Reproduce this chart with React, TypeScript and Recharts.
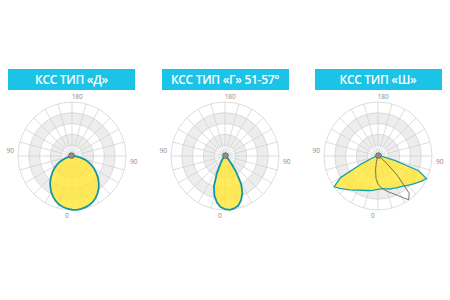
import React from 'react';
import { RadarChart, Radar, PolarGrid, PolarAngleAxis, PolarRadiusAxis, PieChart, Pie } from 'recharts';

// half-profile angles from nadir (deg)
const HALF_ANGLES = [0, 5, 10, 15, 20, 25, 30, 35, 40, 45, 50, 55, 60, 65, 70, 75, 80, 85, 90];

// relative intensity, type "Д"
const CURVE_D = [1.0, 0.995, 0.98, 0.96, 0.93, 0.885, 0.83, 0.77, 0.7, 0.63, 0.55, 0.475, 0.4, 0.32, 0.24, 0.15, 0.08, 0.03, 0];
// type "Г" 51-57°
const CURVE_G = [1.0, 0.985, 0.95, 0.87, 0.76, 0.6, 0.36, 0.18, 0.1, 0.06, 0.035, 0.02, 0.01, 0, 0, 0, 0, 0, 0];
// type "Ш", C0 plane (symmetric batwing)
const CURVE_SH = [0.61, 0.62, 0.63, 0.65, 0.66, 0.68, 0.7, 0.73, 0.77, 0.82, 0.87, 0.93, 0.99, 0.8, 0.32, 0.12, 0.05, 0.02, 0];
// type "Ш", C90 plane (asymmetric, positive = right)
const SH90_ANGLES = [-30, -25, -20, -15, -10, -5, 0, 5, 10, 15, 20, 25, 30, 35, 40, 45, 50, 55];
const CURVE_SH90 = [0.02, 0.05, 0.12, 0.26, 0.42, 0.52, 0.58, 0.63, 0.68, 0.73, 0.79, 0.88, 0.99, 0.9, 0.5, 0.21, 0.08, 0.02];

const TITLES = ['КСС ТИП «Д»', 'КСС ТИП «Г» 51-57°', 'КСС ТИП «Ш»'];
const AXIS_LABELS: Record<number, string> = { 0: '0', 90: '90', 180: '180', [-90]: '90' };

const half = (arr: number[], deg: number) => {
  const i = HALF_ANGLES.indexOf(Math.abs(deg));
  return i >= 0 ? arr[i] : 0;
};

const data = Array.from({ length: 72 }, (_, i) => {
  const deg = i <= 36 ? i * 5 : i * 5 - 360;
  const j = SH90_ANGLES.indexOf(deg);
  return {
    deg,
    d: half(CURVE_D, deg),
    g: half(CURVE_G, deg),
    sh: half(CURVE_SH, deg),
    sh90: j >= 0 ? CURVE_SH90[j] : 0,
  };
});

const SIZE = 150;
const C = 75;
const R = 54;
const RINGS = [0.2, 0.4, 0.6, 0.8, 1].map(f => f * R);
const SPOKES = Array.from({ length: 24 }, (_, i) => i * 15);
const BANDS = [
  [0.2, 0.4],
  [0.6, 0.8],
];
const band = [{ v: 1 }];

const AngleTick = (props: any) => {
  const { x, y, payload } = props;
  const label = AXIS_LABELS[payload.value];
  if (label === undefined) return null;
  const dx = x - C;
  const dy = y - C;
  const len = Math.sqrt(dx * dx + dy * dy) || 1;
  const off = Math.abs(dx) > Math.abs(dy) ? R + 8 : R + 6;
  return (
    <text
      x={C + (dx / len) * off}
      y={C + (dy / len) * off}
      textAnchor="middle"
      dominantBaseline="central"
      fontSize={6.5}
      fill="#8a8a8a"
    >
      {label}
    </text>
  );
};

const Polar: React.FC<{ series: { key: string; fill: string; stroke: string; width: number }[] }> = ({ series }) => (
  <div style={{ position: 'relative', width: SIZE, height: SIZE }}>
    <div style={{ position: 'absolute', left: 0, top: 0 }}>
      <PieChart width={SIZE} height={SIZE} margin={{ top: 0, right: 0, bottom: 0, left: 0 }}>
        {BANDS.map(([a, b], i) => (
          <Pie
            key={i}
            data={band}
            dataKey="v"
            cx={C}
            cy={C}
            innerRadius={a * R}
            outerRadius={b * R}
            fill="#ededed"
            stroke="none"
            startAngle={0}
            endAngle={360}
            isAnimationActive={false}
          />
        ))}
      </PieChart>
    </div>
    <div style={{ position: 'absolute', left: 0, top: 0 }}>
      <RadarChart
        width={SIZE}
        height={SIZE}
        data={data}
        cx={C}
        cy={C}
        outerRadius={R}
        startAngle={-90}
        endAngle={270}
        margin={{ top: 0, right: 0, bottom: 0, left: 0 }}
      >
        <PolarGrid gridType="circle" polarRadius={RINGS} polarAngles={SPOKES} stroke="#cfcfcf" strokeWidth={0.7} />
        <PolarAngleAxis dataKey="deg" tick={AngleTick} tickLine={false} axisLine={false} />
        <PolarRadiusAxis domain={[0, 1]} tick={false} axisLine={false} />
        {series.map(s => (
          <Radar
            key={s.key}
            dataKey={s.key}
            fill={s.fill}
            fillOpacity={s.fill === 'none' ? 0 : 0.8}
            stroke={s.stroke}
            strokeWidth={s.width}
            dot={false}
            isAnimationActive={false}
          />
        ))}
      </RadarChart>
    </div>
    <div
      style={{
        position: 'absolute',
        left: C - 2.5,
        top: C - 2.5,
        width: 5,
        height: 5,
        borderRadius: '50%',
        background: '#8d8d8d',
        boxShadow: '0 0 0 0.6px #555',
      }}
    />
  </div>
);

const PANELS = [
  [{ key: 'd', fill: '#ffe633', stroke: '#1597a3', width: 1.8 }],
  [{ key: 'g', fill: '#ffe633', stroke: '#1597a3', width: 1.8 }],
  [
    { key: 'sh', fill: '#ffe633', stroke: '#1ba3a8', width: 1.3 },
    { key: 'sh90', fill: 'none', stroke: '#555', width: 0.8 },
  ],
];
const CENTERS = [71.5, 225, 378];

export default function App() {
  return (
    <div
      style={{
        position: 'absolute',
        left: 0,
        top: 0,
        width: 450,
        height: 300,
        background: '#fff',
        fontFamily: '"Open Sans", sans-serif',
      }}
    >
      {PANELS.map((series, i) => (
        <React.Fragment key={i}>
          <div
            style={{
              position: 'absolute',
              left: CENTERS[i] - 63.5,
              top: 69,
              width: 127,
              height: 21,
              background: '#1bc3e7',
              color: '#fff',
              fontSize: 12,
              fontWeight: 600,
              letterSpacing: -0.3,
              lineHeight: '21px',
              textAlign: 'center',
              whiteSpace: 'nowrap',
            }}
          >
            {TITLES[i]}
          </div>
          <div style={{ position: 'absolute', left: CENTERS[i] - C, top: 155.5 - C }}>
            <Polar series={series} />
          </div>
        </React.Fragment>
      ))}
    </div>
  );
}
